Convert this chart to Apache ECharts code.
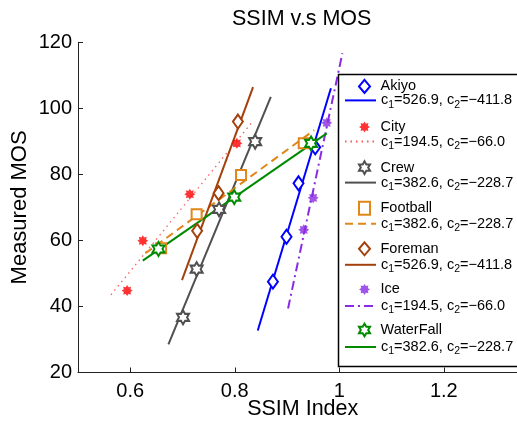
<!DOCTYPE html>
<html>
<head>
<meta charset="utf-8">
<script src="https://cdn.jsdelivr.net/npm/echarts@6/dist/echarts.min.js"></script>
<style>
  html, body { margin: 0; padding: 0; background: #fff; }
  #chart { width: 517px; height: 421px; }
</style>
</head>
<body>
<div id="chart"></div>
<script>
// sequence names and fitted coefficients (as printed in the legend)
const names = ['Akiyo', 'City', 'Crew', 'Football', 'Foreman', 'Ice', 'WaterFall']
const fitC1 = [526.9, 194.5, 382.6, 382.6, 526.9, 194.5, 382.6]
const fitC2 = [-411.8, -66.0, -228.7, -228.7, -411.8, -66.0, -228.7]

// measured points (SSIM, MOS)
const akiyoSsim = [0.873, 0.899, 0.922, 0.954]
const akiyoMos = [47.5, 61.1, 77.3, 88.2]
const citySsim = [0.594, 0.624, 0.714, 0.804]
const cityMos = [44.8, 59.9, 74.0, 89.4]
const crewSsim = [0.701, 0.727, 0.770, 0.839]
const crewMos = [36.7, 51.3, 69.4, 89.9]
const footballSsim = [0.659, 0.727, 0.812, 0.932]
const footballMos = [57.6, 67.9, 79.8, 89.4]
const foremanSsim = [0.728, 0.769, 0.806]
const foremanMos = [62.9, 74.3, 96.0]
const iceSsim = [0.932, 0.950, 0.976]
const iceMos = [63.2, 72.9, 95.6]
const waterfallSsim = [0.654, 0.799, 0.946]
const waterfallMos = [57.4, 73.1, 89.4]

// fitted line end points
const akiyoFitSsim = [0.844, 0.984]
const akiyoFitMos = [32.7, 106.1]
const cityFitSsim = [0.563, 0.834]
const cityFitMos = [43.5, 96.0]
const crewFitSsim = [0.673, 0.869]
const crewFitMos = [28.5, 103.5]
const footballFitSsim = [0.629, 0.952]
const footballFitMos = [56.1, 93.4]
const foremanFitSsim = [0.699, 0.835]
const foremanFitMos = [48.0, 106.4]
const iceFitSsim = [0.902, 1.006]
const iceFitMos = [39.4, 116.7]
const waterfallFitSsim = [0.624, 0.976]
const waterfallFitMos = [53.9, 92.4]

const xTicks = [0.6, 0.8, 1, 1.2]
const yTicks = [20, 40, 60, 80, 100, 120]

const pointsX = [akiyoSsim, citySsim, crewSsim, footballSsim, foremanSsim, iceSsim, waterfallSsim]
const pointsY = [akiyoMos, cityMos, crewMos, footballMos, foremanMos, iceMos, waterfallMos]
const fitX = [akiyoFitSsim, cityFitSsim, crewFitSsim, footballFitSsim, foremanFitSsim, iceFitSsim, waterfallFitSsim]
const fitY = [akiyoFitMos, cityFitMos, crewFitMos, footballFitMos, foremanFitMos, iceFitMos, waterfallFitMos]

const FONT = '"Liberation Sans", Arial, Helvetica, sans-serif'

// marker shapes
function starPath(n, r1, r2) {
  let d = ''
  for (let i = 0; i < n * 2; i++) {
    const r = i % 2 === 0 ? r1 : r2
    const a = (Math.PI * i) / n - Math.PI / 2
    d += (i === 0 ? 'M' : 'L') + (r * Math.cos(a)).toFixed(2) + ',' + (r * Math.sin(a)).toFixed(2)
  }
  return 'path://' + d + 'Z'
}
const asterisk = starPath(8, 10, 6.5)
const hexagram = 'path://M0,-10L2.89,-5L8.66,-5L5.77,0L8.66,5L2.89,5L0,10L-2.89,5L-8.66,5L-5.77,0L-8.66,-5L-2.89,-5Z'

const styles = [
  { color: '#0000ff', symbol: 'diamond', size: [10, 14], filled: false, line: 'solid', lw: 2 },
  { color: '#ff0000', symbol: asterisk, size: 11, filled: true, line: [1.5, 4], lw: 1.2, lineColor: '#ff5555' },
  { color: '#505050', symbol: hexagram, size: [12, 14], filled: false, line: 'solid', lw: 2 },
  { color: '#e0861a', symbol: 'rect', size: 10, filled: false, line: [8, 5], lw: 2 },
  { color: '#a3400c', symbol: 'diamond', size: [10, 14], filled: false, line: 'solid', lw: 2 },
  { color: '#8a2be2', symbol: asterisk, size: 11, filled: true, line: [9, 4, 2, 4], lw: 2 },
  { color: '#008a00', symbol: hexagram, size: [12, 14], filled: false, line: 'solid', lw: 2 },
]

const fitNames = names.map((n) => n + ' fit')
const fmt = (v) => v.toFixed(1).replace('-', '\u2212')

const series = []
names.forEach((name, i) => {
  const s = styles[i]
  series.push({
    name: fitNames[i],
    type: 'line',
    data: fitX[i].map((x, j) => [x, fitY[i][j]]),
    symbol: 'none',
    silent: true,
    lineStyle: { color: s.lineColor || s.color, width: s.lw, type: s.line },
    itemStyle: { color: s.lineColor || s.color },
    z: 2,
  })
  series.push({
    name: name,
    type: 'scatter',
    data: pointsX[i].map((x, j) => [x, pointsY[i][j]]),
    symbol: s.symbol,
    symbolSize: s.size,
    itemStyle: s.filled
      ? { color: s.color }
      : { color: '#ffffff', opacity: 1, borderColor: s.color, borderWidth: 2 },
    z: 3,
  })
})

const chart = echarts.init(document.getElementById('chart'), null, { renderer: 'canvas' })

chart.setOption({
  backgroundColor: '#ffffff',
  animation: false,
  textStyle: { fontFamily: FONT },
  title: {
    text: 'SSIM v.s MOS',
    left: 232,
    top: 8,
    padding: 0,
    textStyle: { fontFamily: FONT, fontSize: 21.5, fontWeight: 'normal', color: '#000' },
  },
  grid: {
    left: 78,
    top: 42.3,
    width: 449.4,
    height: 330.2,
    outerBoundsMode: 'none',
    containLabel: false,
  },
  xAxis: {
    type: 'value',
    min: 0.5,
    max: 1.36,
    name: 'SSIM Index',
    nameLocation: 'middle',
    nameGap: 25.5,
    nameMoveOverlap: false,
    nameTextStyle: { fontFamily: FONT, fontSize: 21.5, color: '#000' },
    axisLine: { lineStyle: { color: '#222', width: 1 } },
    axisTick: { inside: true, length: 5, customValues: xTicks, lineStyle: { color: '#222' } },
    axisLabel: {
      customValues: xTicks,
      margin: 9,
      fontFamily: FONT,
      fontSize: 20,
      color: '#000',
      formatter: (v) => String(v),
    },
    splitLine: { show: false },
  },
  yAxis: {
    type: 'value',
    min: 20,
    max: 120,
    name: 'Measured MOS',
    nameLocation: 'middle',
    nameGap: 47,
    nameMoveOverlap: false,
    nameTextStyle: { fontFamily: FONT, fontSize: 22, color: '#000' },
    axisLine: { show: true, lineStyle: { color: '#222', width: 1 } },
    axisTick: { show: true, inside: true, length: 5, customValues: yTicks, lineStyle: { color: '#222' } },
    axisLabel: { customValues: yTicks, margin: 6, fontFamily: FONT, fontSize: 20, color: '#000' },
    splitLine: { show: false },
  },
  legend: [
    {
      data: names,
      orient: 'vertical',
      left: 358,
      top: 78.9,
      padding: 0,
      itemWidth: 11,
      itemHeight: 13,
      itemGap: 25.6,
      selectedMode: false,
      textStyle: { fontFamily: FONT, fontSize: 14.5, lineHeight: 14, color: '#000', padding: [0, 0, 0, 5.5] },
    },
    {
      data: fitNames,
      orient: 'vertical',
      left: 344,
      top: 92.9,
      padding: 0,
      itemWidth: 31,
      itemHeight: 14,
      itemGap: 23.6,
      selectedMode: false,
      itemStyle: { color: 'rgba(0,0,0,0)', borderColor: 'rgba(0,0,0,0)', borderWidth: 0 },
      formatter: (name) => {
        const i = fitNames.indexOf(name)
        return '{t|c}{s|1}{t|=' + fmt(fitC1[i]) + ', c}{s|2}{t|=' + fmt(fitC2[i]) + '}'
      },
      textStyle: {
        fontFamily: FONT,
        fontSize: 14.5,
        color: '#000',
        rich: {
          t: { fontFamily: FONT, fontSize: 14.5, lineHeight: 20, verticalAlign: 'middle', color: '#000' },
          s: { fontFamily: FONT, fontSize: 10.5, lineHeight: 12, verticalAlign: 'bottom', color: '#000' },
        },
      },
    },
  ],
  graphic: [
    {
      type: 'rect',
      shape: { x: 338.5, y: 74.5, width: 200, height: 292 },
      style: { fill: 'none', stroke: '#000', lineWidth: 1.5 },
      z: 100,
      silent: true,
    },
  ],
  series: series,
})
</script>
</body>
</html>
